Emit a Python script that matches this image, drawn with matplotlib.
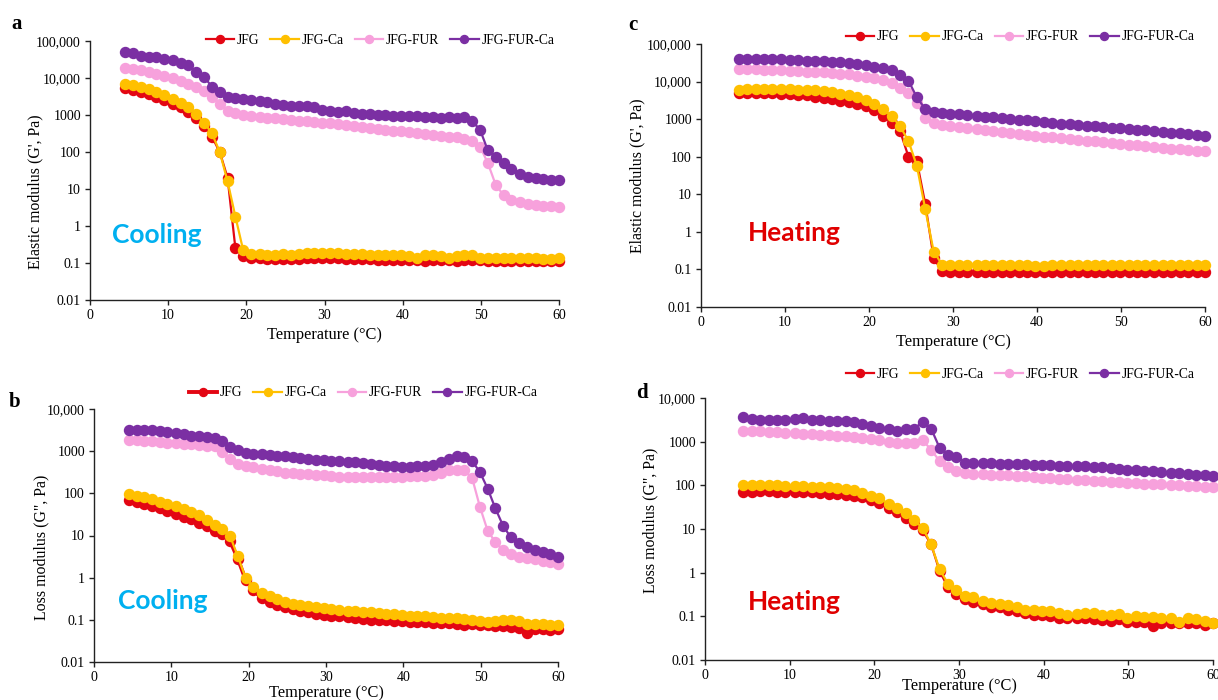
import matplotlib
matplotlib.use('Agg')
import matplotlib.pyplot as plt

plt.rcParams['font.family'] = ['Liberation Serif', 'DejaVu Serif']

# --- temperature grid (deg C) shared by all sweeps ---
temps = [4.5, 5.5, 6.5, 7.5, 8.5, 9.5, 10.6, 11.6, 12.6, 13.6,
         14.6, 15.6, 16.6, 17.6, 18.6, 19.6, 20.6, 21.7, 22.7, 23.7,
         24.7, 25.7, 26.7, 27.7, 28.7, 29.7, 30.7, 31.7, 32.8, 33.8,
         34.8, 35.8, 36.8, 37.8, 38.8, 39.8, 40.8, 41.8, 42.8, 43.9,
         44.9, 45.9, 46.9, 47.9, 48.9, 49.9, 50.9, 51.9, 52.9, 53.9,
         55.0, 56.0, 57.0, 58.0, 59.0, 60.0]

labels = ['JFG', 'JFG-Ca', 'JFG-FUR', 'JFG-FUR-Ca']
colors = ['#E30613', '#FFC000', '#F7A1DC', '#7B2FA3']

# --- a: elastic modulus G', cooling ---
a_jfg = [5400, 4700, 4100, 3600, 3000, 2500, 2000, 1600, 1200, 850,
         500, 260, 100, 20, 0.25, 0.15, 0.14, 0.14, 0.13, 0.13,
         0.13, 0.13, 0.13, 0.14, 0.14, 0.14, 0.14, 0.14, 0.13, 0.13,
         0.13, 0.13, 0.12, 0.12, 0.12, 0.12, 0.12, 0.12, 0.11, 0.12,
         0.12, 0.12, 0.11, 0.12, 0.12, 0.12, 0.11, 0.11, 0.11, 0.11,
         0.11, 0.11, 0.11, 0.11, 0.11, 0.11]
a_jfg_ca = [7000, 6300, 5700, 5000, 4200, 3500, 2700, 2100, 1600, 1050,
            620, 320, 100, 16, 1.8, 0.22, 0.18, 0.17, 0.16, 0.16,
            0.17, 0.16, 0.17, 0.19, 0.19, 0.19, 0.19, 0.19, 0.18, 0.17,
            0.17, 0.16, 0.16, 0.16, 0.16, 0.16, 0.15, 0.14, 0.16, 0.16,
            0.15, 0.14, 0.15, 0.16, 0.16, 0.14, 0.14, 0.14, 0.14, 0.14,
            0.14, 0.14, 0.14, 0.13, 0.13, 0.14]
a_fur = [19000, 17500, 16000, 14500, 13000, 11500, 10000, 8500, 7000, 5800,
         4400, 3000, 2000, 1300, 1150, 1000, 950, 900, 850, 820,
         780, 750, 700, 680, 650, 620, 590, 560, 540, 510,
         480, 450, 430, 400, 380, 360, 340, 320, 300, 280,
         265, 255, 260, 220, 200, 140, 50, 13, 6.8, 5.2,
         4.5, 4.0, 3.7, 3.5, 3.4, 3.3]
a_fur_ca = [50000, 48000, 40000, 38000, 37000, 32000, 30000, 26000, 22000, 14600,
            10700, 5800, 4300, 3000, 2900, 2700, 2500, 2400, 2200, 2000,
            1900, 1800, 1750, 1700, 1600, 1350, 1250, 1200, 1250, 1150,
            1050, 1050, 1000, 980, 950, 960, 940, 920, 880, 860,
            850, 870, 820, 870, 680, 400, 110, 72, 50, 34,
            25, 21, 20, 19, 17, 18]

# --- b: loss modulus G'', cooling ---
b_jfg = [68, 61, 55, 49, 44, 38, 33, 28, 24, 20,
         16.5, 13, 11, 7.4, 2.8, 0.9, 0.5, 0.33, 0.27, 0.23,
         0.2, 0.18, 0.16, 0.15, 0.14, 0.13, 0.12, 0.12, 0.115, 0.11,
         0.105, 0.1, 0.1, 0.098, 0.095, 0.092, 0.09, 0.09, 0.088, 0.085,
         0.085, 0.082, 0.08, 0.076, 0.078, 0.077, 0.076, 0.072, 0.07, 0.068,
         0.064, 0.049, 0.06, 0.06, 0.058, 0.06]
b_jfg_ca = [97, 88, 80, 72, 64, 56, 49, 42, 36, 30,
            23, 18, 14, 9.6, 3.2, 1.0, 0.6, 0.43, 0.37, 0.32,
            0.27, 0.24, 0.22, 0.21, 0.2, 0.19, 0.18, 0.17, 0.165, 0.16,
            0.155, 0.15, 0.145, 0.14, 0.135, 0.13, 0.125, 0.12, 0.12, 0.115,
            0.11, 0.11, 0.11, 0.105, 0.1, 0.095, 0.09, 0.092, 0.1, 0.1,
            0.095, 0.078, 0.08, 0.078, 0.075, 0.076]
b_fur = [1850, 1800, 1750, 1700, 1650, 1600, 1550, 1500, 1450, 1400,
         1350, 1300, 950, 660, 500, 440, 420, 380, 350, 330,
         310, 300, 290, 280, 275, 265, 255, 250, 248, 245,
         245, 243, 243, 245, 248, 250, 255, 258, 262, 270,
         300, 350, 360, 350, 230, 48, 13, 7.0, 4.5, 3.6,
         3.1, 2.9, 2.7, 2.5, 2.3, 2.1]
b_fur_ca = [3200, 3200, 3200, 3100, 3000, 2900, 2700, 2500, 2350, 2250,
            2200, 2050, 1700, 1250, 1050, 900, 870, 840, 800, 780,
            750, 730, 700, 650, 630, 620, 600, 580, 560, 540,
            510, 490, 470, 450, 440, 430, 430, 440, 450, 480,
            550, 650, 750, 720, 580, 320, 130, 44, 17, 9,
            6.5, 5.2, 4.6, 4.1, 3.6, 3.1]

# --- c: elastic modulus G', heating ---
c_jfg = [4900, 4900, 5000, 5000, 4900, 4800, 4700, 4500, 4300, 4000,
         3700, 3400, 3100, 2800, 2500, 2200, 1700, 1200, 800, 480,
         100, 75, 5.5, 0.2, 0.09, 0.085, 0.085, 0.085, 0.085, 0.085,
         0.085, 0.085, 0.085, 0.085, 0.085, 0.085, 0.085, 0.085, 0.085, 0.085,
         0.085, 0.085, 0.085, 0.085, 0.085, 0.085, 0.085, 0.085, 0.085, 0.085,
         0.085, 0.085, 0.085, 0.085, 0.085, 0.085]
c_jfg_ca = [6000, 6300, 6400, 6400, 6300, 6300, 6200, 6100, 6000, 5800,
            5500, 5200, 4800, 4400, 4000, 3300, 2600, 1850, 1200, 650,
            260, 57, 4, 0.3, 0.135, 0.13, 0.13, 0.13, 0.135, 0.13,
            0.13, 0.13, 0.13, 0.13, 0.13, 0.12, 0.12, 0.13, 0.13, 0.13,
            0.13, 0.13, 0.135, 0.13, 0.13, 0.13, 0.13, 0.13, 0.13, 0.13,
            0.13, 0.13, 0.13, 0.13, 0.13, 0.13]
c_fur = [21000, 21000, 21000, 20500, 20000, 20000, 19500, 19000, 18500, 18000,
         17500, 17000, 16000, 15500, 14500, 13500, 12400, 11000, 9000, 6700,
         4900, 2700, 1100, 800, 680, 640, 600, 570, 540, 510,
         480, 455, 430, 405, 380, 355, 340, 325, 310, 295,
         280, 265, 255, 243, 232, 220, 210, 200, 190, 182,
         173, 165, 158, 150, 145, 138]
c_fur_ca = [41000, 41000, 41000, 41000, 40000, 39000, 38000, 37000, 36000, 35500,
            35000, 34000, 33000, 31000, 29000, 27000, 25000, 23000, 20000, 15000,
            10500, 3800, 1850, 1560, 1440, 1390, 1340, 1280, 1220, 1170,
            1120, 1070, 1020, 975, 930, 890, 830, 800, 765, 735,
            705, 675, 645, 620, 595, 570, 545, 520, 500, 480,
            460, 440, 420, 400, 385, 355]

# --- d: loss modulus G'', heating ---
d_jfg = [71, 72, 73, 73, 72, 72, 71, 70, 69, 67,
         65, 63, 60, 58, 55, 46, 40, 31, 24, 18,
         13, 9.3, 4.5, 1.1, 0.46, 0.33, 0.25, 0.21, 0.19, 0.16,
         0.16, 0.14, 0.13, 0.12, 0.11, 0.105, 0.1, 0.093, 0.093, 0.093,
         0.093, 0.086, 0.083, 0.08, 0.086, 0.076, 0.076, 0.076, 0.06, 0.07,
         0.072, 0.072, 0.07, 0.072, 0.065, 0.072]
d_jfg_ca = [100, 102, 100, 100, 100, 98, 97, 95, 93, 92,
            90, 87, 83, 78, 68, 57, 50, 38, 31, 23,
            16, 10.6, 4.5, 1.2, 0.56, 0.4, 0.29, 0.27, 0.22, 0.2,
            0.19, 0.18, 0.16, 0.14, 0.14, 0.13, 0.13, 0.12, 0.11, 0.115,
            0.12, 0.12, 0.11, 0.105, 0.115, 0.09, 0.1, 0.095, 0.095, 0.09,
            0.09, 0.076, 0.09, 0.085, 0.08, 0.072]
d_fur = [1800, 1800, 1750, 1700, 1650, 1600, 1560, 1520, 1480, 1440,
         1400, 1370, 1320, 1260, 1230, 1150, 1100, 1000, 920, 920,
         920, 1070, 660, 360, 260, 210, 190, 185, 180, 175,
         172, 168, 165, 160, 155, 150, 147, 143, 140, 135,
         132, 128, 125, 122, 118, 115, 112, 110, 108, 105,
         103, 100, 98, 96, 94, 92]
d_fur_ca = [3700, 3300, 3200, 3200, 3200, 3200, 3300, 3400, 3200, 3100,
            3050, 3000, 2900, 2800, 2600, 2250, 2100, 2000, 1800, 2000,
            2000, 2800, 2000, 730, 490, 450, 330, 330, 320, 320,
            315, 310, 305, 300, 295, 290, 285, 280, 278, 275,
            270, 265, 260, 250, 240, 230, 222, 215, 208, 200,
            195, 190, 182, 175, 170, 165]

tick_text = {0.01: '0.01', 0.1: '0.1', 1: '1', 10: '10', 100: '100',
             1000: '1000', 10000: '10,000', 100000: '100,000'}

fig = plt.figure(figsize=(12.18, 7), dpi=100)
W, H = 1218, 700


def px_axes(left, top, right, bottom):
    # pixel box -> figure fraction
    return fig.add_axes([left / W, 1 - bottom / H, (right - left) / W, (bottom - top) / H])


def panel(ax, series, ymax, ylabel, thick_first=False):
    for i, (vals, lab, col) in enumerate(zip(series, labels, colors)):
        lw = 2.8 if (thick_first and i == 0) else 1.6
        ax.plot(temps, vals, color=col, lw=lw, marker='o', ms=7.2,
                label=lab, clip_on=False, zorder=3 + i)
    ax.set_yscale('log')
    ax.set_ylim(0.01, ymax)
    ax.set_xlim(0, 60)
    yt = [v for v in tick_text if v <= ymax]
    ax.set_yticks(yt)
    ax.set_yticklabels([tick_text[v] for v in yt])
    ax.minorticks_off()
    ax.set_xticks([0, 10, 20, 30, 40, 50, 60])
    for s in ['top', 'right']:
        ax.spines[s].set_visible(False)
    for s in ['left', 'bottom']:
        ax.spines[s].set_linewidth(1.0)
        ax.spines[s].set_color('#222222')
    ax.tick_params(direction='out', length=3.5, width=1.0, labelsize=10,
                   color='#222222', pad=3)
    ax.set_xlabel('Temperature (°C)', fontsize=11.8)
    ax.set_ylabel(ylabel, fontsize=11.4)


def legend(ax, cx, cy):
    ax.legend(loc='center', bbox_to_anchor=(cx / W, 1 - cy / H),
              bbox_transform=fig.transFigure, ncol=4, frameon=False,
              fontsize=9.8, handlelength=2.1, handletextpad=0.2,
              columnspacing=0.8, borderaxespad=0, markerscale=0.8)


# a
ax_a = px_axes(90, 41, 559, 300)
panel(ax_a, [a_jfg, a_jfg_ca, a_fur, a_fur_ca], 100000, "Elastic modulus (G', Pa)")
ax_a.xaxis.set_label_coords(0.5, -0.105)
ax_a.yaxis.set_label_coords(-0.10, 0.42)
legend(ax_a, 380, 40)

# c
ax_c = px_axes(701, 44, 1205, 307)
panel(ax_c, [c_jfg, c_jfg_ca, c_fur, c_fur_ca], 100000, "Elastic modulus (G', Pa)")
ax_c.xaxis.set_label_coords(0.5, -0.103)
ax_c.yaxis.set_label_coords(-0.111, 0.5)
legend(ax_c, 1020, 37)

# b
ax_b = px_axes(94, 409, 558, 662)
panel(ax_b, [b_jfg, b_jfg_ca, b_fur, b_fur_ca], 10000, 'Loss modulus (G", Pa)', thick_first=True)
ax_b.xaxis.set_label_coords(0.5, -0.091)
ax_b.yaxis.set_label_coords(-0.097, 0.455)
legend(ax_b, 363, 393)

# d
ax_d = px_axes(705, 398, 1213, 660)
panel(ax_d, [d_jfg, d_jfg_ca, d_fur, d_fur_ca], 10000, 'Loss modulus (G", Pa)')
ax_d.xaxis.set_label_coords(0.5, -0.068)
ax_d.yaxis.set_label_coords(-0.091, 0.534)
legend(ax_d, 1020, 374)

# panel letters
for letter, x, y in [('a', 17, 24), ('c', 633, 25), ('b', 15, 402), ('d', 642, 393)]:
    fig.text(x / W, 1 - y / H, letter, fontsize=15, fontweight='bold',
             ha='center', va='center')

# cooling / heating tags
for text, col, x, y in [('Cooling', '#00B0F0', 157, 235), ('Cooling', '#00B0F0', 163, 601),
                        ('Heating', '#E00000', 794, 233), ('Heating', '#E00000', 794, 602)]:
    fig.text(x / W, 1 - y / H, text, fontsize=19, fontweight='bold', color=col,
             family=['Lato', 'DejaVu Sans'], ha='center', va='center')

fig.savefig('out.png', dpi=100)
